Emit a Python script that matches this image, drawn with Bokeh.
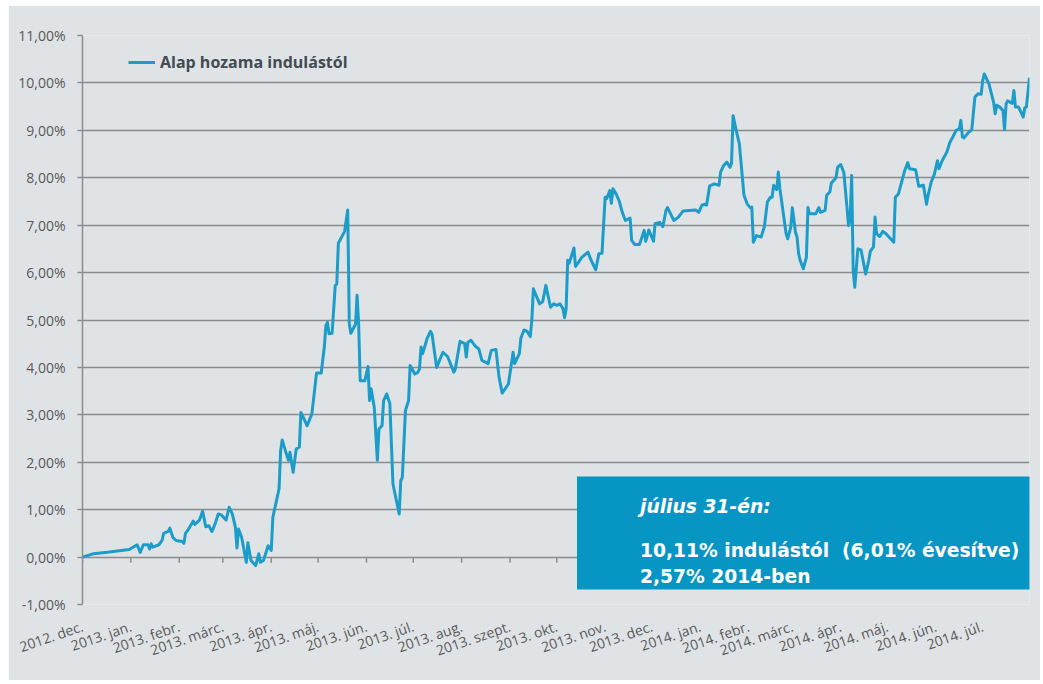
import pandas as pd
from bokeh.plotting import figure
from bokeh.models import Range1d, FixedTicker, BoxAnnotation, Label
from bokeh.embed import file_html
from bokeh.resources import INLINE

# ---------------- data ----------------
launch_date = "2012-12-01"
last_date = "2014-07-31"

days_since_launch = [
    0, 7, 16, 30, 35, 37, 39, 42, 43, 44, 45, 49, 51, 52, 55, 56, 58, 60, 64, 65,
    66, 68, 71, 72, 75, 77, 79, 81, 83, 85, 87, 89, 92, 94, 96, 98, 99, 100, 102, 105,
    106, 108, 111, 113, 114, 116, 119, 121, 122,
    126, 127, 128, 130, 132, 133, 135, 137, 139, 140, 144, 147, 148, 150, 153, 155, 156, 157, 158, 160,
    162, 163, 164, 168, 170, 171, 172, 175, 176, 177, 178, 181, 183, 184, 185, 187, 189, 190, 192, 193,
    195, 197, 199, 203, 204, 205, 207, 209, 210,
    213, 215, 216, 217, 218, 221, 223, 224, 227, 231, 234, 238, 239, 241, 242, 245, 246, 247, 249, 252,
    254, 256, 260, 262, 265, 267, 269, 273, 276, 277, 280, 281, 283, 285, 287, 288, 289, 293, 295, 297,
    300, 302, 304, 306, 308, 309, 310, 311, 312, 315, 316, 318, 320, 324, 326, 329, 331, 333, 335, 336,
    338, 339, 340, 342, 344, 346, 348, 351, 352, 354, 357, 360, 361, 363, 366, 367, 370, 372, 374, 375,
    379, 382, 385, 393, 395, 397, 399, 400, 402, 405, 408, 409, 410, 411, 413, 415, 416, 417, 419, 421,
    424, 426, 428, 429, 430, 432, 435, 437, 439, 441, 442, 443, 445, 446, 447, 451, 452, 454, 455, 457,
    458, 459, 460, 462, 464, 465, 466, 470, 472, 473, 476, 477, 479, 480, 483, 484, 486, 488, 490, 491,
    492, 493, 494, 495, 497, 499, 502, 504, 505, 507, 508, 509, 511, 513, 515, 520, 521, 523, 527, 529,
    530, 534, 536, 539, 541, 542, 544, 546, 548, 549, 551, 554, 556, 558, 560, 562, 563, 564, 565, 568,
    570, 572, 574, 576, 577, 578, 581, 584, 585, 586, 588, 590, 591, 592, 593, 596, 597, 598, 600, 603,
    604, 605, 607,
]

return_pct = [
    0.00, 0.07, 0.10, 0.16, 0.26, 0.10, 0.26, 0.26, 0.17, 0.28, 0.21, 0.26, 0.35, 0.50, 0.54, 0.61, 0.41, 0.35, 0.33, 0.29,
    0.50, 0.59, 0.76, 0.69, 0.78, 0.97, 0.64, 0.66, 0.54, 0.70, 0.91, 0.89, 0.78, 1.05, 0.91, 0.63, 0.19, 0.59, 0.42, -0.11,
    0.30, -0.07, -0.18, 0.07, -0.11, -0.07, 0.24, 0.14, 0.84,
    1.44, 2.25, 2.47, 2.25, 2.04, 2.21, 1.79, 2.28, 2.32, 3.05, 2.77, 3.02, 3.30, 3.88, 3.88, 4.43, 4.88, 4.95, 4.71, 4.72,
    5.73, 5.76, 6.62, 6.87, 7.32, 4.92, 4.72, 4.91, 5.52, 4.92, 3.72, 3.72, 4.02, 3.30, 3.55, 3.16, 2.04, 2.70, 2.77, 3.30,
    3.44, 3.24, 1.54, 0.91, 1.61, 1.68, 3.09, 3.30, 4.04,
    3.86, 3.90, 3.97, 4.43, 4.29, 4.62, 4.76, 4.71, 4.00, 4.32, 4.23, 3.90, 3.97, 4.36, 4.55, 4.50, 4.22, 4.53, 4.57, 4.44,
    4.39, 4.15, 4.08, 4.36, 4.38, 3.79, 3.46, 3.65, 4.32, 4.08, 4.29, 4.62, 4.79, 4.76, 4.65, 4.99, 5.66, 5.34, 5.39, 5.73,
    5.27, 5.34, 5.31, 5.34, 5.24, 5.05, 5.24, 6.26, 6.20, 6.52, 6.13, 6.22, 6.32, 6.43, 6.26, 6.06, 6.40, 6.41, 7.59, 7.56,
    7.73, 7.46, 7.77, 7.66, 7.51, 7.27, 7.10, 7.15, 6.68, 6.59, 6.59, 6.89, 6.66, 6.90, 6.66, 7.03, 7.06, 6.97, 7.31, 7.37,
    7.10, 7.17, 7.30, 7.32, 7.27, 7.42, 7.44, 7.42, 7.83, 7.87, 7.84, 8.12, 8.19, 8.26, 8.33, 8.22, 8.30, 9.31, 9.00, 8.72,
    7.63, 7.45, 7.37, 7.38, 6.64, 6.78, 6.75, 6.96, 7.49, 7.59, 7.59, 7.84, 7.75, 8.12, 7.77, 6.82, 6.71, 6.96, 7.37, 6.85,
    6.75, 6.40, 6.26, 6.08, 6.32, 7.37, 7.24, 7.24, 7.37, 7.27, 7.31, 7.63, 7.70, 7.89, 8.00, 8.22, 8.28, 8.11, 7.38, 6.99,
    7.10, 8.05, 6.04, 5.69, 6.50, 6.48, 5.97, 6.26, 6.45, 6.54, 7.17, 6.82, 6.76, 6.87, 6.82, 6.64, 7.59, 7.66, 8.15, 8.32,
    8.19, 8.17, 7.82, 7.84, 7.44, 7.63, 7.91, 8.07, 8.36, 8.19, 8.36, 8.54, 8.75, 8.87, 9.00, 9.03, 9.21, 8.86, 8.84, 8.96,
    9.01, 9.70, 9.77, 9.76, 10.05, 10.19, 9.98, 9.59, 9.35, 9.53, 9.49, 9.42, 9.01, 9.56, 9.62, 9.57, 9.84, 9.49, 9.49, 9.28,
    9.48, 9.49, 10.11,
]

month_labels = [
    "2012. dec.", "2013. jan.", "2013. febr.", "2013. márc.", "2013. ápr.", "2013. máj.",
    "2013. jún.", "2013. júl.", "2013. aug.", "2013. szept.", "2013. okt.", "2013. nov.",
    "2013. dec.", "2014. jan.", "2014. febr.", "2014. márc.", "2014. ápr.", "2014. máj.",
    "2014. jún.", "2014. júl.",
]
y_ticks = list(range(-1, 12))

series_name = "Alap hozama indulástól"
box_title = "július 31-én:"
box_line1 = "10,11% indulástól \u00a0(6,01% évesítve)"
box_line2 = "2,57% 2014-ben"

# ---------------- derived ----------------
start = pd.Timestamp(launch_date)
month_starts = pd.date_range(start, periods=len(month_labels), freq="MS")
month_days = [int((m - start).days) for m in month_starts]
end_day = int((pd.Timestamp(last_date) - start).days)

# ---------------- style ----------------
BG = "#dfe3e6"
GRID = "#8c8c8c"
LINE = "#1c9dc9"
BOX = "#0796c3"
TXT = "#595959"

p = figure(width=1032, height=675,
           x_range=Range1d(0, end_day), y_range=Range1d(-1, 11),
           output_backend="svg", toolbar_location=None,
           min_border_left=74, min_border_right=11,
           min_border_top=30, min_border_bottom=76)
p.styles = {"margin-left": "8px", "margin-top": "5px"}
p.background_fill_color = BG
p.border_fill_color = BG
p.outline_line_color = None

p.xgrid.visible = False
p.ygrid.grid_line_color = GRID
p.ygrid.grid_line_width = 1.5

ya = p.yaxis[0]
ya.ticker = FixedTicker(ticks=y_ticks)
ya.major_label_overrides = {t: f"{t:.2f}%".replace(".", ",") for t in y_ticks}
ya.axis_line_color = GRID
ya.axis_line_width = 1.5
ya.major_tick_line_color = GRID
ya.major_tick_line_width = 1.5
ya.major_tick_out = 5
ya.major_tick_in = 0
ya.minor_tick_line_color = None
ya.major_label_standoff = 12
ya.major_label_text_font = "Open Sans"
ya.major_label_text_font_size = "14px"
ya.major_label_text_color = TXT

xa = p.xaxis[0]
xa.ticker = FixedTicker(ticks=month_days)
xa.major_label_overrides = dict(zip(month_days, month_labels))
xa.major_label_orientation = 0.33
xa.axis_line_color = None
xa.major_tick_line_color = None
xa.minor_tick_line_color = None
xa.major_tick_out = 0
xa.major_tick_in = 0
xa.major_label_standoff = 21
xa.major_label_text_font = "Open Sans"
xa.major_label_text_font_size = "14px"
xa.major_label_text_color = TXT

# tick marks on the 0% line
p.segment(x0=month_days, y0=[0] * len(month_days), x1=month_days,
          y1=[-0.12] * len(month_days), line_color=GRID, line_width=1.5)

p.line(x=days_since_launch, y=return_pct, line_color=LINE, line_width=3,
       line_join="round", legend_label=series_name)

lg = p.legend[0]
lg.location = (46, 531)
lg.padding = 0
lg.margin = 0
lg.background_fill_alpha = 0
lg.border_line_color = None
lg.glyph_width = 27
lg.label_standoff = 5
lg.label_text_font = "Open Sans"
lg.label_text_font_style = "bold"
lg.label_text_font_size = "16px"
lg.label_text_color = "#424b52"

box = BoxAnnotation(left=494.5, right=953.5, top=128, bottom=15,
                    left_units="screen", right_units="screen",
                    top_units="screen", bottom_units="screen",
                    fill_color=BOX, fill_alpha=1.0, line_color=None)
p.add_layout(box)

for txt, yy, style in [(box_title, 98, "bold italic"),
                       (box_line1, 54, "bold"),
                       (box_line2, 28, "bold")]:
    p.add_layout(Label(x=557.5, y=yy, x_units="screen", y_units="screen",
                       text=txt, text_font="DejaVu Sans", text_font_style=style,
                       text_font_size="18.7px", text_color="white",
                       text_baseline="alphabetic"))

open("out.html", "w").write(file_html(p, INLINE))
